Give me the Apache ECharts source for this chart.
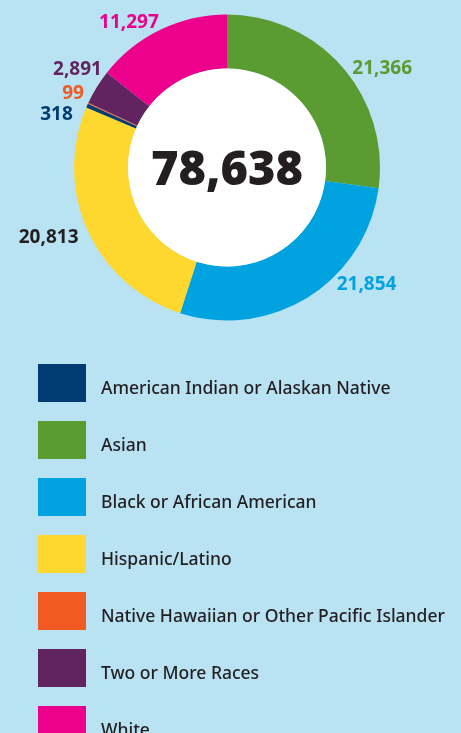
<!DOCTYPE html>
<html>
<head>
<meta charset="utf-8">
<script src="https://cdn.jsdelivr.net/npm/echarts@6/dist/echarts.min.js"></script>
<style>
  html, body { margin: 0; padding: 0; background: #b9e2f3; }
  #chart { width: 461px; height: 733px; }
</style>
</head>
<body>
<div id="chart"></div>
<script>
// slices in the order they run clockwise from 12 o'clock
var groups = ['Asian', 'Black or African American', 'Hispanic/Latino', 'American Indian or Alaskan Native',
	'Native Hawaiian or Other Pacific Islander', 'Two or More Races', 'White'];
var counts = [21366, 21854, 20813, 318, 99, 2891, 11297];
var colors = ['#5a9b32', '#00a3e0', '#fed72f', '#003c71', '#f15a22', '#622461', '#ec008c'];
// legend is listed alphabetically
var legendOrder = ['American Indian or Alaskan Native', 'Asian', 'Black or African American', 'Hispanic/Latino',
	'Native Hawaiian or Other Pacific Islander', 'Two or More Races', 'White'];
// small label nudges [dx, dy] so they sit like the original
var labelNudge = [[4, 7], [24, -19], [-2, 3], [-7, 12], [3, -6], [12, -13], [2, 0]];

var total = counts.reduce(function(a, b) { return a + b; }, 0);
var fmt = function(v) { return v.toLocaleString('en-US'); };

var sliceData = [];
for (var i = 0; i < groups.length; i++) {
	sliceData.push({
		name: groups[i],
		value: counts[i],
		itemStyle: { color: colors[i] },
		label: { color: colors[i] == '#fed72f' ? '#231f20' : colors[i] }
	});
}

var chart = echarts.init(document.getElementById('chart'));
chart.setOption({
	backgroundColor: '#b9e2f3',
	animation: false,
	legend: {
		data: legendOrder,
		orient: 'vertical',
		left: 38,
		top: 364,
		height: 420,
		padding: 0,
		itemWidth: 48,
		itemHeight: 38,
		itemGap: 19,
		icon: 'rect',
		selectedMode: false,
		formatter: function(name) { return '{t|' + name + '}'; },
		textStyle: {
			rich: {
				t: {
					fontFamily: 'Noto Sans',
					fontSize: 17.5,
					fontWeight: 500,
					color: '#231f20',
					padding: [13, 0, 0, 10]
				}
			}
		}
	},
	series: [{
		type: 'pie',
		center: [227, 167.5],
		radius: [99, 153],
		startAngle: 90,
		clockwise: true,
		avoidLabelOverlap: false,
		data: sliceData,
		label: {
			show: true,
			position: 'outside',
			distanceToLabelLine: 0,
			fontFamily: 'Noto Sans',
			fontSize: 19,
			fontWeight: 'bold',
			formatter: function(p) { return fmt(p.value); }
		},
		labelLine: { show: false, length: 8, length2: 0 },
		labelLayout: function(p) {
			var n = labelNudge[p.dataIndex];
			return { dx: n[0], dy: n[1] };
		},
		emphasis: { disabled: true }
	}, {
		type: 'pie',
		center: [227, 167.5],
		radius: [0, 99],
		silent: true,
		data: [{ name: 'Total', value: total, itemStyle: { color: '#ffffff' } }],
		label: {
			show: true,
			position: 'center',
			fontFamily: 'Noto Sans',
			fontSize: 47,
			fontWeight: 900,
			color: '#231f20',
			offset: [0, 4],
			formatter: function() { return fmt(total); }
		},
		labelLine: { show: false },
		emphasis: { disabled: true }
	}]
});
</script>
</body>
</html>
